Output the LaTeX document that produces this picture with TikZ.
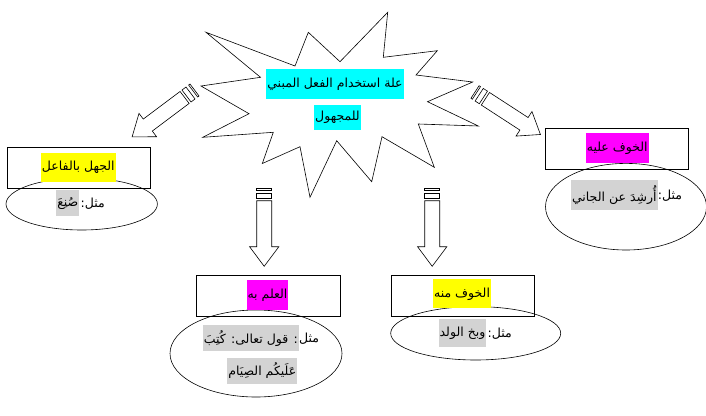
\documentclass[tikz,border=0pt]{standalone}
\usepackage{fontspec}
\newfontfamily\arabicfont[Script=Arabic]{DejaVu Sans}
\TeXXeTstate=1
\newcommand{\artxt}[1]{\beginR #1\endR}
\definecolor{hlgray}{RGB}{211,211,211}
\tikzset{
  shapeline/.style={draw=black, line width=0.6pt},
  artext/.style={inner xsep=1pt, inner ysep=0pt, font=\arabicfont\fontsize{12.5}{14}\selectfont},
  hlcyan/.style={artext, fill={rgb,255:red,0;green,255;blue,255}},
  hlyellow/.style={artext, fill={rgb,255:red,255;green,255;blue,0}},
  hlmagenta/.style={artext, fill={rgb,255:red,255;green,0;blue,255}},
  hlgraybox/.style={artext, fill=hlgray},
  striparrow/.pic={
    \draw[shapeline] (0,-7.5) rectangle (1.7,7.5);
    \draw[shapeline] (5,-7.5) rectangle (10,7.5);
    \draw[shapeline] (12.4,-7.5) -- (58.4,-7.5) -- (58.4,-14.65) -- (78,0) -- (58.4,14.65) -- (58.4,7.5) -- (12.4,7.5) -- cycle;
  }
}
\begin{document}
\begin{tikzpicture}[x=1pt,y=-1pt]
\useasboundingbox (0,0) rectangle (706,415);
\fill[white] (0,0) rectangle (706,415);

% starburst
\draw[shapeline] (387.7,12.3) -- (383.3,57.3) -- (437.3,50.7) -- (416,75) -- (472.7,82) -- (427.5,101.7) -- (478.3,126) -- (418.3,124) -- (434.3,167.3) -- (382,136.7) -- (371.7,181.7) -- (336.7,140.7) -- (310,197.3) -- (300,146.7) -- (262.3,163.5) -- (273.3,132.3) -- (202.7,137.3) -- (249,113.7) -- (201,86) -- (260.5,77.3) -- (206,32.3) -- (295,66) -- (308.3,32.3) -- (340,61.7) -- cycle;
\node[hlcyan, minimum height=30pt] (title1) at (335,84) {\artxt{علة استخدام الفعل المبني}};
\node[hlcyan, minimum height=25pt] (title2) at (337.5,117.5) {\artxt{للمجهول}};

% arrows
\pic[rotate=216.9] at (194.5,90) {striparrow};
\pic[rotate=-33] at (475,92) {striparrow};
\pic[rotate=-90] at (264.2,188.3) {striparrow};
\pic[rotate=-90] at (432.2,188.3) {striparrow};

% left group
\draw[shapeline] (81.7,204) ellipse [x radius=75.7, y radius=26];
\draw[shapeline] (7.3,147.3) rectangle (150.7,188.3);
\node[hlyellow, minimum height=29pt] (lefttitle) at (78.3,167.2) {\artxt{الجهل بالفاعل}};
\node[hlgraybox, minimum height=26pt] (leftex) at (67.8,203.3) {\artxt{صُنِعَ}};
\node[artext, anchor=west] (leftlbl) at (leftex.east) {\artxt{مثل:}};

% right group
\draw[shapeline] (626,206.7) ellipse [x radius=80.5, y radius=43.3];
\draw[shapeline] (545.7,128.3) rectangle (688.7,169.3);
\node[hlmagenta, minimum height=30pt] (righttitle) at (617.2,148) {\artxt{الخوف عليه}};
\node[hlgraybox, minimum height=30pt] (rightex) at (614.3,195.3) {\artxt{أُرشِدَ عن الجاني}};
\node[artext, anchor=west, inner xsep=0pt] (rightlbl) at (rightex.east) {\artxt{مثل:}};

% bottom-left group
\draw[shapeline] (256,353.5) ellipse [x radius=86, y radius=43.5];
\draw[shapeline] (196,275) rectangle (340,316);
\node[hlmagenta, minimum height=30pt] (bltitle) at (267.5,295.3) {\artxt{العلم به}};
\node[hlgraybox, minimum height=26pt] (blex1) at (250.8,338.3) {\artxt{: قول تعالى: كُتِبَ}};
\node[artext, anchor=west, inner xsep=0pt] (bllbl) at (blex1.east) {\artxt{مثل}};
\node[hlgraybox, minimum height=26pt] (blex2) at (262.3,370.7) {\artxt{عَلَيكُم الصِيَام}};

% bottom-right group
\draw[shapeline] (475.7,333.3) ellipse [x radius=85, y radius=26.7];
\draw[shapeline] (391.7,275) rectangle (534.3,316);
\node[hlyellow, minimum height=29pt] (brtitle) at (462,293.8) {\artxt{الخوف منه}};
\node[hlgraybox, minimum height=28pt] (brex) at (462.5,333.2) {\artxt{وبخ الولد}};
\node[artext, anchor=west] (brlbl) at (brex.east) {\artxt{مثل:}};
\end{tikzpicture}
\end{document}
